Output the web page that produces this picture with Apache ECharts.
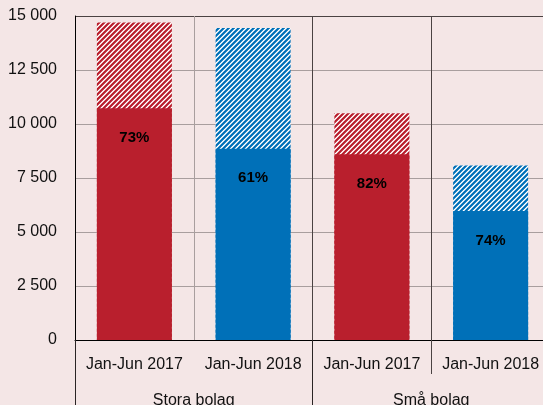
<!DOCTYPE html>
<html>
<head>
<meta charset="utf-8">
<script src="https://cdn.jsdelivr.net/npm/echarts@6/dist/echarts.min.js"></script>
<style>
  html, body { margin: 0; padding: 0; background: #F4E6E6; overflow: hidden; }
  #chart { width: 551px; height: 405px; }
</style>
</head>
<body>
<div id="chart"></div>
<script>
// Periods and company groups
const periods = ['Jan-Jun 2017', 'Jan-Jun 2018', 'Jan-Jun 2017', 'Jan-Jun 2018'];
const groups = ['Stora bolag', 'Små bolag'];
// Total volume per bar (hatched + solid) and the solid share
const totals = [14700, 14450, 10500, 8075];
const solidPart = [10730, 8850, 8600, 5970];
const shareLabels = ['73%', '61%', '82%', '74%'];
const yTicks = [0, 2500, 5000, 7500, 10000, 12500, 15000];

const RED = '#B91F2D';
const BLUE = '#0070B8';
const barColors = [RED, BLUE, RED, BLUE];

// Diagonal stripe tile used for the hatched part of each bar
function stripeTile(hex) {
  const s = 5;
  const c = document.createElement('canvas');
  c.width = s; c.height = s;
  const ctx = c.getContext('2d');
  const img = ctx.createImageData(s, s);
  const r = parseInt(hex.slice(1, 3), 16), g = parseInt(hex.slice(3, 5), 16), b = parseInt(hex.slice(5, 7), 16);
  const mix = [1, 1, 0.8, 0, 0.3];
  for (let y = 0; y < s; y++) {
    for (let x = 0; x < s; x++) {
      const k = mix[(x + y) % s];
      const i = (y * s + x) * 4;
      img.data[i] = Math.round(255 + (r - 255) * k);
      img.data[i + 1] = Math.round(255 + (g - 255) * k);
      img.data[i + 2] = Math.round(255 + (b - 255) * k);
      img.data[i + 3] = 255;
    }
  }
  ctx.putImageData(img, 0, 0);
  return c;
}
const hatch = { [RED]: stripeTile(RED), [BLUE]: stripeTile(BLUE) };

const fmt = v => String(v).replace(/\B(?=(\d{3})+(?!\d))/g, ' ');
const FONT = 'Liberation Sans';
const GRID = '#a89e9e';
const DARK = '#4a4242';

const chart = echarts.init(document.getElementById('chart'), null, { renderer: 'canvas' });
chart.setOption({
  backgroundColor: '#F4E6E6',
  animation: false,
  grid: { left: 75, top: 16, width: 475, height: 324, containLabel: false, outerBoundsMode: 'none' },
  xAxis: [
    {
      type: 'category',
      data: periods,
      position: 'bottom',
      axisLine: { show: true, lineStyle: { color: '#000', width: 1 } },
      // short ticks only where the second period of a group starts and at group edges
      axisTick: { show: true, interval: i => i !== 1, length: 34, lineStyle: { color: DARK } },
      axisLabel: { interval: 0, hideOverlap: false, fontFamily: FONT, fontSize: 16, color: '#111', margin: 17 },
      splitLine: { show: true, interval: 0, lineStyle: { color: [DARK, GRID, DARK, DARK, DARK], width: 1 } }
    },
    {
      type: 'category',
      data: groups,
      position: 'bottom',
      axisLine: { show: false },
      axisTick: { show: true, interval: 0, length: 66, lineStyle: { color: '#2a2424' } },
      axisLabel: { interval: 0, fontFamily: FONT, fontSize: 16, color: '#111', margin: 53 },
      splitLine: { show: false }
    }
  ],
  yAxis: {
    type: 'value',
    min: 0,
    max: 15000,
    interval: 2500,
    axisLine: { show: true, lineStyle: { color: '#000' } },
    axisTick: { show: false },
    axisLabel: { fontFamily: FONT, fontSize: 16, color: '#111', margin: 18, formatter: v => fmt(v) },
    splitLine: { show: true, lineStyle: { color: [GRID, GRID, GRID, GRID, GRID, GRID, DARK], width: 1 } }
  },
  series: [
    {
      name: 'Totalt',
      type: 'bar',
      barWidth: 75,
      barGap: '-100%',
      data: totals.map((v, i) => ({
        value: v,
        itemStyle: { color: { image: hatch[barColors[i]], repeat: 'repeat' } }
      })),
      z: 2
    },
    {
      name: 'Andel',
      type: 'bar',
      barWidth: 75,
      data: solidPart.map((v, i) => ({
        value: v,
        itemStyle: { color: barColors[i] },
        label: {
          show: true,
          position: 'insideTop',
          distance: 22,
          formatter: shareLabels[i],
          fontFamily: FONT,
          fontWeight: 'bold',
          fontSize: 15,
          color: '#000'
        }
      })),
      z: 3
    }
  ]
});
</script>
</body>
</html>
